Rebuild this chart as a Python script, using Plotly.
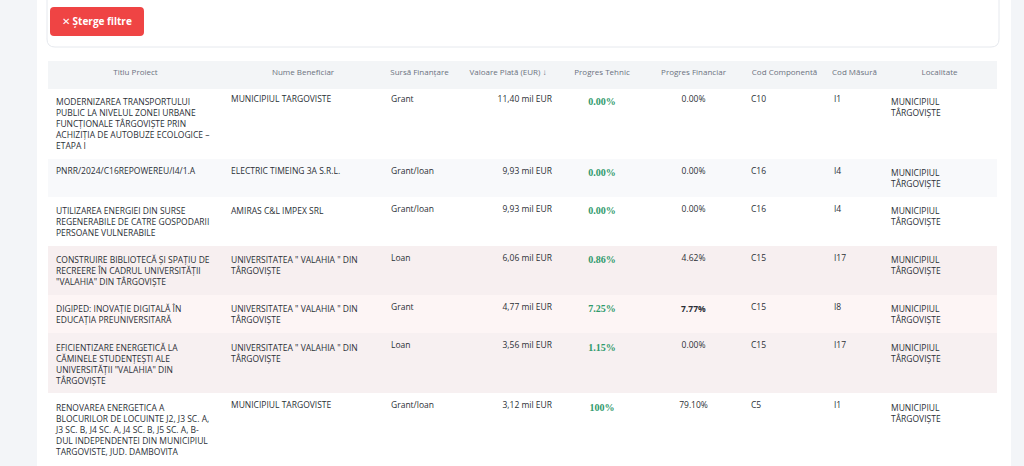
import plotly.graph_objects as go

# table content
headers = ["Titlu Proiect", "Nume Beneficiar", "Sursă Finanțare", "Valoare Plată (EUR) ↓",
           "Progres Tehnic", "Progres Financiar", "Cod Componentă", "Cod Măsură", "Localitate"]

titlu = [
    "MODERNIZAREA TRANSPORTULUI<br>PUBLIC LA NIVELUL ZONEI URBANE<br>FUNCȚIONALE TÂRGOVIȘTE PRIN<br>ACHIZIȚIA DE AUTOBUZE ECOLOGICE –<br>ETAPA I",
    "PNRR/2024/C16REPOWEREU/I4/1.A",
    "UTILIZAREA ENERGIEI DIN SURSE<br>REGENERABILE DE CATRE GOSPODARII<br>PERSOANE VULNERABILE",
    "CONSTRUIRE BIBLIOTECĂ ȘI SPAȚIU DE<br>RECREERE ÎN CADRUL UNIVERSITĂȚII<br>\"VALAHIA\" DIN TÂRGOVIȘTE",
    "DIGIPED: INOVAȚIE DIGITALĂ ÎN<br>EDUCAȚIA PREUNIVERSITARĂ",
    "EFICIENTIZARE ENERGETICĂ LA<br>CĂMINELE STUDENȚEȘTI ALE<br>UNIVERSITĂȚII \"VALAHIA\" DIN<br>TÂRGOVIȘTE",
    "RENOVAREA ENERGETICA A<br>BLOCURILOR DE LOCUINTE J2, J3 SC. A,<br>J3 SC. B, J4 SC. A, J4 SC. B, J5 SC. A, B-<br>DUL INDEPENDENTEI DIN MUNICIPIUL<br>TARGOVISTE, JUD. DAMBOVITA",
]
beneficiar = [
    "MUNICIPIUL TARGOVISTE",
    "ELECTRIC TIMEING 3A S.R.L.",
    "AMIRAS C&L IMPEX SRL",
    "UNIVERSITATEA \" VALAHIA \" DIN<br>TÂRGOVIȘTE",
    "UNIVERSITATEA \" VALAHIA \" DIN<br>TÂRGOVIȘTE",
    "UNIVERSITATEA \" VALAHIA \" DIN<br>TÂRGOVIȘTE",
    "MUNICIPIUL TARGOVISTE",
]
sursa = ["Grant", "Grant/loan", "Grant/loan", "Loan", "Grant", "Loan", "Grant/loan"]
valoare = [11.40, 9.93, 9.93, 6.06, 4.77, 3.56, 3.12]  # mil EUR
progres_tehnic = ["0.00%", "0.00%", "0.00%", "0.86%", "7.25%", "1.15%", "100%"]
progres_financiar = ["0.00%", "0.00%", "0.00%", "4.62%", "<b>7.77%</b>", "0.00%", "79.10%"]
cod_componenta = ["C10", "C16", "C16", "C15", "C15", "C15", "C5"]
cod_masura = ["I1", "I4", "I4", "I17", "I8", "I17", "I1"]
localitate = ["MUNICIPIUL<br>TÂRGOVIȘTE"] * 7

row_fill = ["#ffffff", "#f8f9fb", "#ffffff", "#f7eff0", "#fdf5f5", "#f7f0f1", "#ffffff"]

NB = "\u00a0"  # keep plotly from re-wrapping lines


def nb(s):
    return s.replace(" ", NB)


valoare_txt = [f"{v:.2f}".replace(".", ",") + " mil EUR" for v in valoare]
tehnic_txt = [f"<b>{p}</b>" for p in progres_tehnic]

columns = [titlu, beneficiar, sursa, valoare_txt, tehnic_txt, progres_financiar,
           cod_componenta, cod_masura, localitate]
columns = [[nb(s) for s in col] for col in columns]
ncol = len(columns)

W, H = 1024, 466
text_col = "#2b2f36"

fig = go.Figure(go.Table(
    domain=dict(x=[48 / W, 996 / W], y=[0, 1 - 61 / H]),
    columnwidth=[175, 160, 73, 104, 84, 99, 83, 57, 113],
    header=dict(
        values=[nb(h) for h in headers],
        fill_color="#f3f5f7",
        line=dict(color="#f3f5f7", width=1),
        align="center",
        font=dict(family="Open Sans", size=8, color="#6b7280"),
        height=27,
    ),
    cells=dict(
        values=columns,
        fill_color=[row_fill] * ncol,
        line=dict(color=[row_fill] * ncol, width=1),
        align=["left", "left", "left", "right", "center", "center", "left", "left", "left"],
        font=dict(
            family=["Open Sans"] * 4 + ["Liberation Serif"] + ["Open Sans"] * 4,
            size=[8.5] * 4 + [10] + [8.5] * 4,
            color=[text_col] * 4 + ["#2f9a6b"] + [text_col] * 4,
        ),
        height=20,
    ),
))

# page chrome: grey page, white content panel, filter card and the red button
shapes = [
    dict(type="rect", xref="paper", yref="paper", x0=37 / W, x1=1011 / W, y0=0, y1=1,
         fillcolor="#ffffff", line_width=0, layer="below"),
]


def rounded(x0, y0, x1, y1, r):
    # rounded rectangle in pixel units -> paper path
    def px(x):
        return f"{x / W:.5f}"

    def py(y):
        return f"{1 - y / H:.5f}"
    return (f"M{px(x0 + r)},{py(y0)} L{px(x1 - r)},{py(y0)} Q{px(x1)},{py(y0)} {px(x1)},{py(y0 + r)} "
            f"L{px(x1)},{py(y1 - r)} Q{px(x1)},{py(y1)} {px(x1 - r)},{py(y1)} "
            f"L{px(x0 + r)},{py(y1)} Q{px(x0)},{py(y1)} {px(x0)},{py(y1 - r)} "
            f"L{px(x0)},{py(y0 + r)} Q{px(x0)},{py(y0)} {px(x0 + r)},{py(y0)} Z")


shapes.append(dict(type="path", xref="paper", yref="paper", path=rounded(47, -20, 999, 47, 8),
                   fillcolor="#ffffff", line=dict(color="#e6e9ee", width=1), layer="below"))
shapes.append(dict(type="path", xref="paper", yref="paper", path=rounded(50, 7, 144, 36, 4),
                   fillcolor="#ef4444", line_width=0, layer="below"))

fig.update_layout(
    width=W, height=H,
    margin=dict(l=0, r=0, t=0, b=0),
    paper_bgcolor="#f3f5f8",
    shapes=shapes,
    annotations=[dict(text="✕ <b>Șterge filtre</b>", x=97 / W, y=1 - 21.5 / H,
                      xref="paper", yref="paper", xanchor="center", yanchor="middle",
                      showarrow=False,
                      font=dict(family="Open Sans", size=10, color="#ffffff"))],
)

fig.write_html("out.html", config={"displayModeBar": False},
               post_script="document.body.style.margin='0';document.body.style.background='#f3f5f8';")
